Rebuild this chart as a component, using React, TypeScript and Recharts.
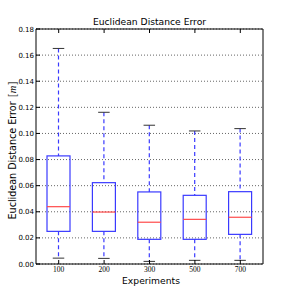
import {
  ComposedChart,
  Bar,
  XAxis,
  YAxis,
  CartesianGrid,
  ReferenceArea,
} from 'recharts';

const experiments = ['100', '200', '300', '500', '700'];
const whiskerLow = [0.0045, 0.0043, 0.002, 0.0028, 0.0028];
const lowerQuartile = [0.025, 0.025, 0.0189, 0.0189, 0.0227];
const medians = [0.0439, 0.0398, 0.032, 0.0342, 0.0358];
const upperQuartile = [0.0828, 0.0623, 0.0552, 0.0526, 0.0554];
const whiskerHigh = [0.1651, 0.1162, 0.1063, 0.1019, 0.1037];
const yTicks = [0, 0.02, 0.04, 0.06, 0.08, 0.1, 0.12, 0.14, 0.16, 0.18];

const data = experiments.map((name, i) => ({
  name,
  low: whiskerLow[i],
  q1: lowerQuartile[i],
  median: medians[i],
  q3: upperQuartile[i],
  high: whiskerHigh[i],
}));

const SANS = '"DejaVu Sans", sans-serif';

function BoxShape(props: any) {
  const { x, y, width, height, payload } = props;
  const { low, q1, median, q3, high } = payload;
  const py = (v: number) => y + ((high - v) / (high - low)) * height;
  const cx = x + width / 2;
  const capHalf = width / 4;
  const blue = '#3a3aff';
  return (
    <g>
      <line x1={cx} x2={cx} y1={py(high)} y2={py(q3)} stroke={blue} strokeWidth={1.2} strokeDasharray="4 3" />
      <line x1={cx} x2={cx} y1={py(q1)} y2={py(low)} stroke={blue} strokeWidth={1.2} strokeDasharray="4 3" />
      <line x1={cx - capHalf} x2={cx + capHalf} y1={py(high)} y2={py(high)} stroke="#333" strokeWidth={1} />
      <line x1={cx - capHalf} x2={cx + capHalf} y1={py(low)} y2={py(low)} stroke="#333" strokeWidth={1} />
      <rect x={x} y={py(q3)} width={width} height={py(q1) - py(q3)} fill="none" stroke={blue} strokeWidth={1.2} />
      <line x1={x} x2={x + width} y1={py(median)} y2={py(median)} stroke="#ff4a4a" strokeWidth={1.2} />
    </g>
  );
}

function LeftTick({ x, y, payload }: any) {
  return (
    <g>
      <line x1={x} x2={x + 4} y1={y} y2={y} stroke="#000" />
      <text x={x - 2} y={y} dy={2.5} textAnchor="end" fontSize={7} fontFamily={SANS} fill="#000">
        {Number(payload.value).toFixed(2)}
      </text>
    </g>
  );
}

function RightTick({ x, y }: any) {
  return <line x1={x} x2={x - 4} y1={y} y2={y} stroke="#000" />;
}

function BottomTick({ x, y, payload }: any) {
  return (
    <g>
      <line x1={x} x2={x} y1={y} y2={y - 4} stroke="#000" />
      <text x={x} y={y + 8} textAnchor="middle" fontSize={7.5} fontFamily='"Liberation Serif", serif' fill="#000">
        {payload.value}
      </text>
    </g>
  );
}

function TopTick({ x, y }: any) {
  return <line x1={x} x2={x} y1={y} y2={y + 4} stroke="#000" />;
}

export default function App() {
  return (
    <div style={{ position: 'absolute', left: 0, top: 0, width: 293, height: 293, background: '#fff' }}>
      <ComposedChart
        width={293}
        height={293}
        data={data}
        margin={{ top: 0, right: 0, bottom: 0, left: 0 }}
      >
        <CartesianGrid vertical={false} stroke="#666" strokeDasharray="1 2" />
        <XAxis
          dataKey="name"
          height={29}
          axisLine={false}
          tickLine={false}
          tickSize={0}
          tickMargin={0}
          tick={<BottomTick />}
          interval={0}
        />
        <XAxis
          xAxisId="top"
          dataKey="name"
          orientation="top"
          height={29}
          axisLine={false}
          tickLine={false}
          tickSize={0}
          tickMargin={0}
          tick={<TopTick />}
          interval={0}
        />
        <YAxis
          width={36}
          domain={[0, 0.18]}
          ticks={yTicks}
          axisLine={false}
          tickLine={false}
          tickSize={0}
          tickMargin={0}
          tick={<LeftTick />}
          interval={0}
        />
        <YAxis
          yAxisId="r"
          orientation="right"
          width={30}
          domain={[0, 0.18]}
          ticks={yTicks}
          axisLine={false}
          tickLine={false}
          tickSize={0}
          tickMargin={0}
          tick={<RightTick />}
          interval={0}
        />
        <ReferenceArea y1={0} y2={0.18} fill="none" stroke="#000" strokeWidth={1} ifOverflow="visible" />
        <Bar
          dataKey={(d: any) => [d.low, d.high]}
          barSize={23}
          shape={<BoxShape />}
          isAnimationActive={false}
        />
      </ComposedChart>
      <div
        style={{
          position: 'absolute',
          left: 0,
          width: 299,
          top: 16,
          textAlign: 'center',
          fontFamily: SANS,
          fontSize: 9.2,
          color: '#000',
          lineHeight: '12px',
        }}
      >
        Euclidean Distance Error
      </div>
      <div
        style={{
          position: 'absolute',
          left: 0,
          width: 302,
          top: 275,
          textAlign: 'center',
          fontFamily: SANS,
          fontSize: 9.2,
          color: '#000',
          lineHeight: '12px',
        }}
      >
        Experiments
      </div>
      <div
        style={{
          position: 'absolute',
          left: 12 - 80,
          top: 150 - 6,
          width: 160,
          textAlign: 'center',
          fontFamily: SANS,
          fontSize: 9.6,
          lineHeight: '12px',
          color: '#000',
          transform: 'rotate(-90deg)',
          whiteSpace: 'nowrap',
        }}
      >
        Euclidean Distance Error{' '}
        <span style={{ fontSize: 10.5, marginLeft: 1 }}>
          <span style={{ color: '#444' }}>[</span>
          <span style={{ fontFamily: '"Liberation Serif", serif', fontStyle: 'italic' }}>m</span>
          <span style={{ color: '#444' }}>]</span>
        </span>
      </div>
    </div>
  );
}
